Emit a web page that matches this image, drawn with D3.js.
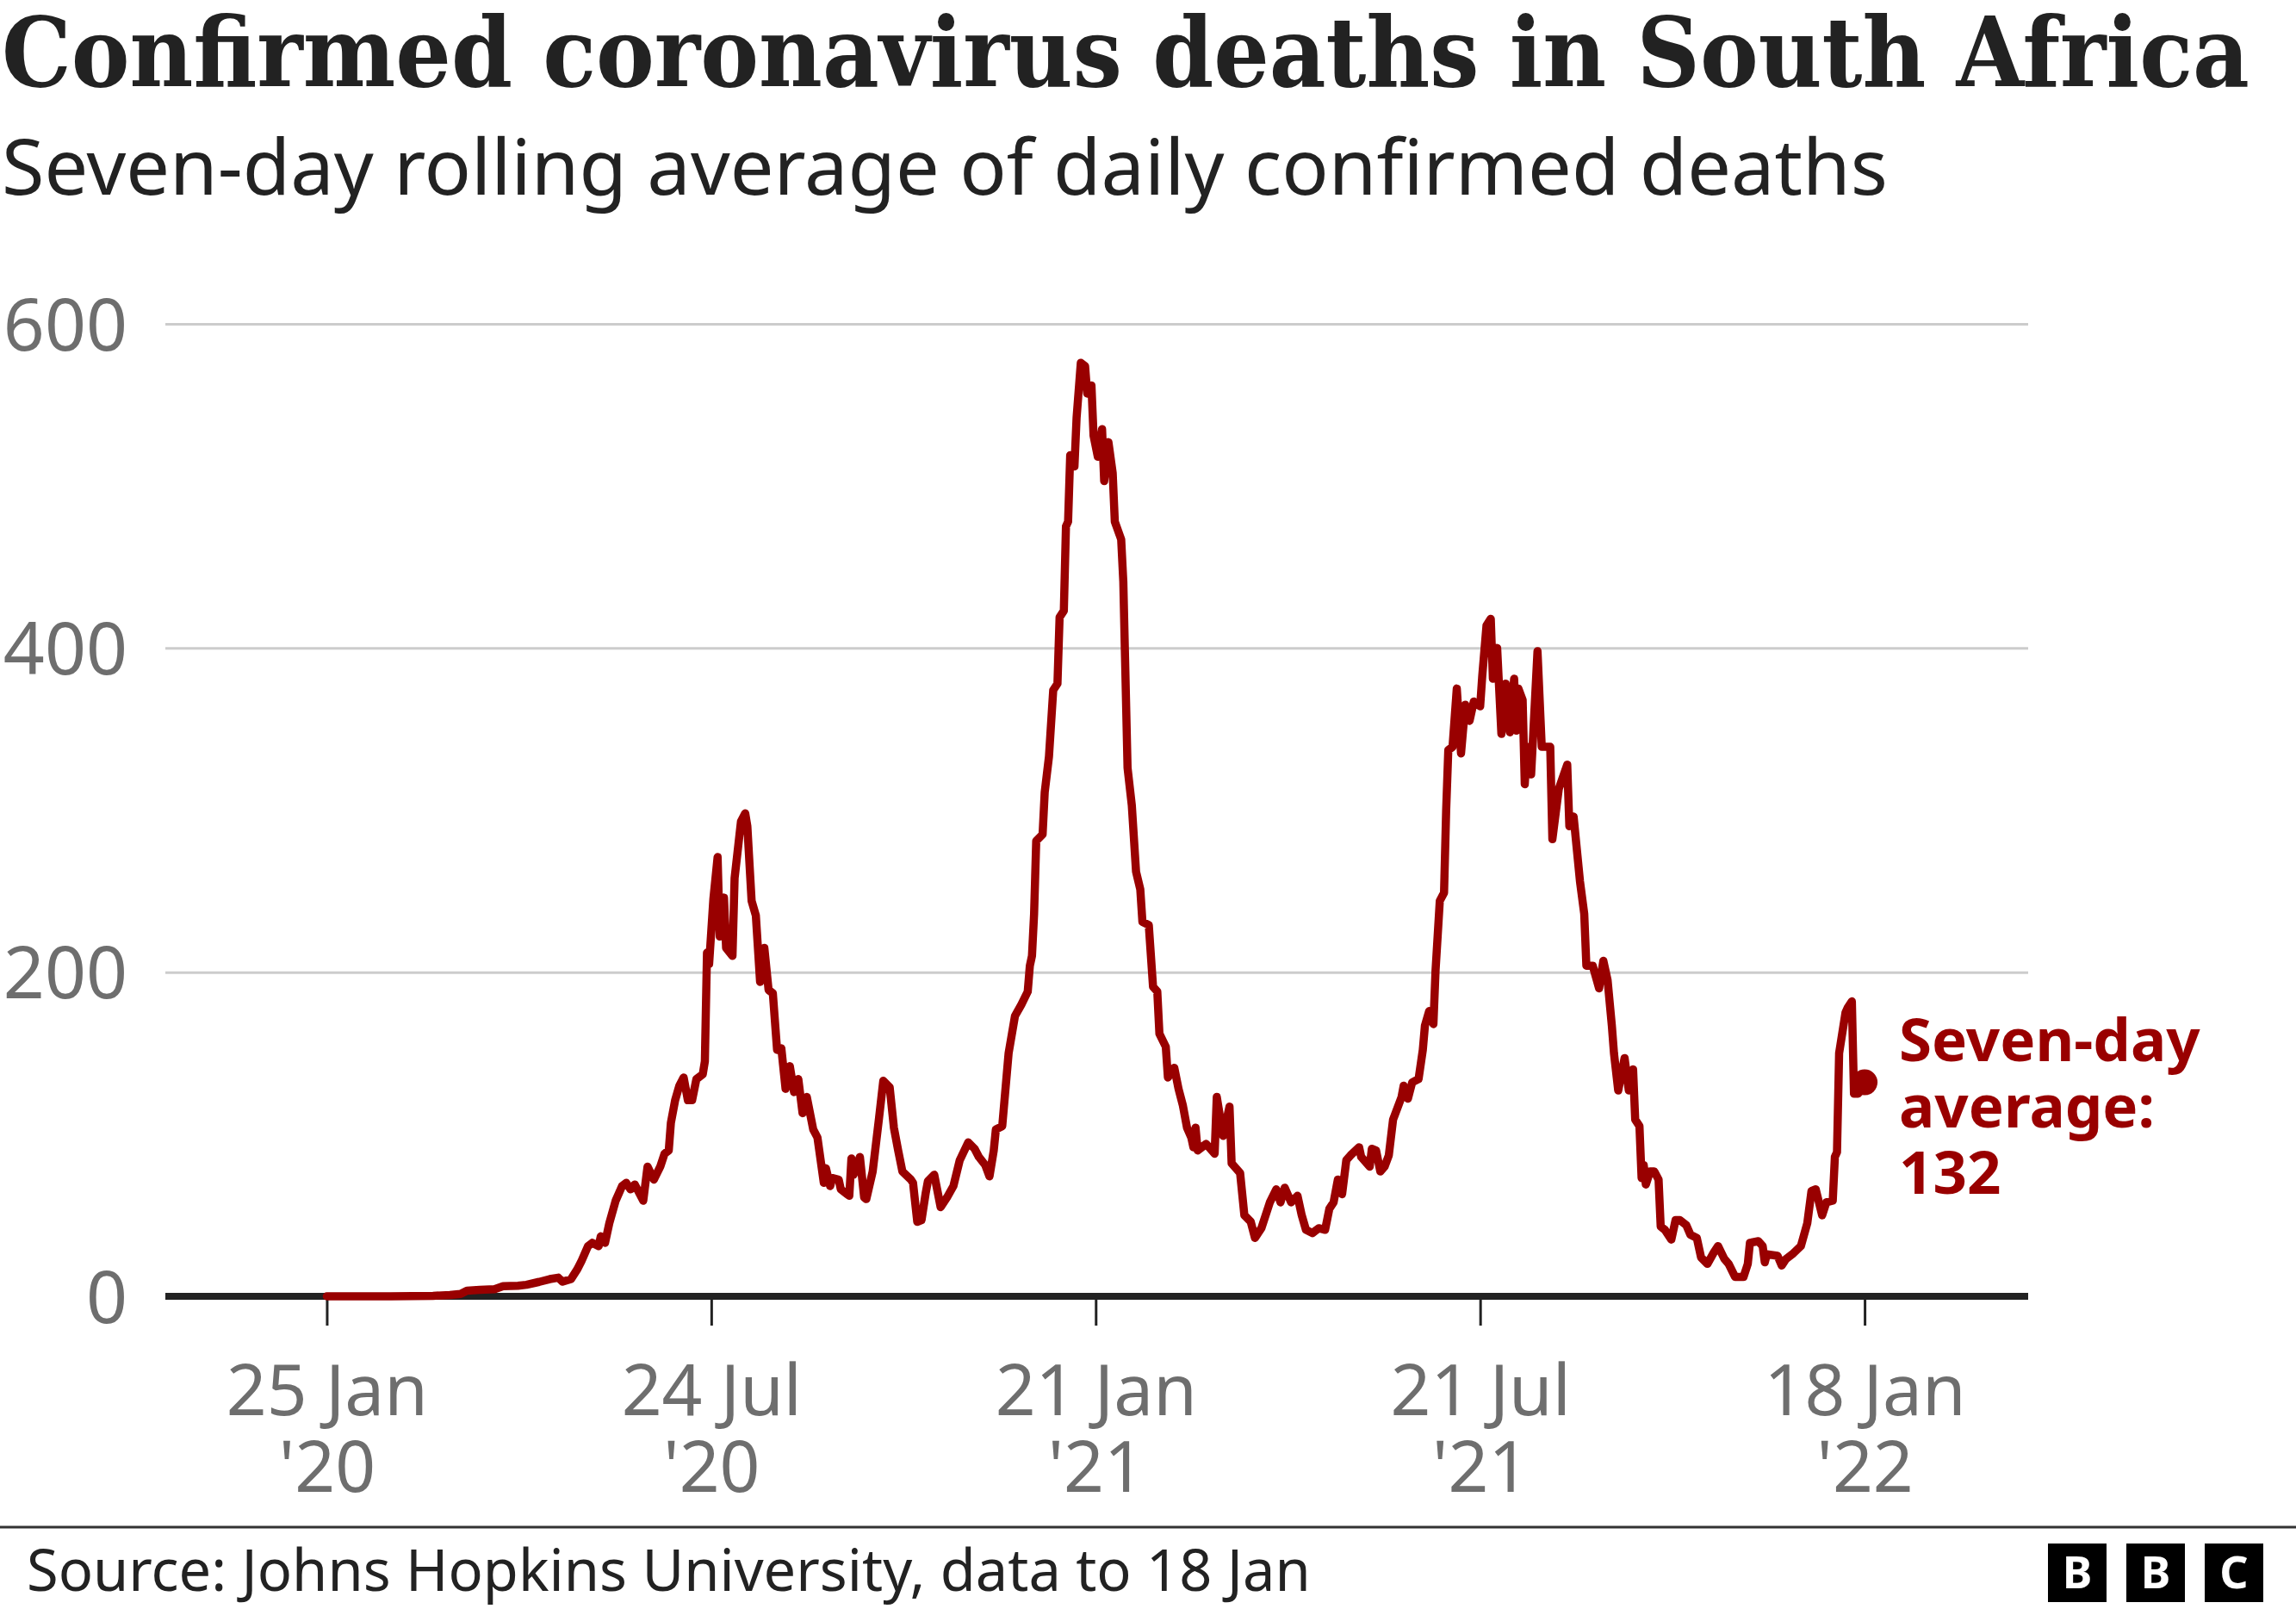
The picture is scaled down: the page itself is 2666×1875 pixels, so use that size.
<!DOCTYPE html>
<html><head><meta charset="utf-8">
<script src="https://cdn.jsdelivr.net/npm/d3@7"></script>
<style>html,body{margin:0;padding:0;background:#fff;} svg{display:block;}</style>
</head><body>
<svg id="chart" width="2666" height="1875"></svg>
<script>
// ---------- DATA ----------
const titleText = "Confirmed coronavirus deaths in South Africa";
const subtitleText = "Seven-day rolling average of daily confirmed deaths";
const sourceText = "Source: Johns Hopkins University, data to 18 Jan";
const annotationLines = ["Seven-day", "average:", "132"];

const startDate = "2020-01-25";          // day 0 of the series
const dayIndex = [0,30,50,58,63,66,72,79,83,90,94,100,105,109,111,115,118,120,123,125,128,129,131,133,136,139,141,143,145,147,149,151,154,157,159,161,162,164,166,168,170,172,174,177,178,179,180,182,184,185,187,188,191,192,195,197,198,200,202,204,206,208,210,212,214,216,218,220,222,224,226,229,231,234,235,237,238,241,242,245,246,247,248,251,253,254,257,260,262,265,267,269,271,275,276,278,280,282,283,286,289,292,295,298,302,305,307,310,312,314,315,318,319,320,321,324,327,330,331,332,333,334,337,338,340,342,344,345,347,348,349,350,352,353,355,357,358,360,361,363,365,366,368,370,371,374,375,377,379,381,383,384,387,389,391,392,395,396,399,401,403,405,407,408,409,410,414,418,419,422,425,426,430,432,435,437,440,444,447,449,451,454,457,459,461,464,467,470,472,474,476,478,480,482,486,487,491,492,494,496,498,500,502,506,507,509,511,514,516,517,519,521,522,524,526,527,528,530,532,534,536,538,540,543,544,546,548,549,551,553,555,557,559,560,561,563,564,565,567,570,572,576,577,580,584,585,587,590,592,593,596,599,601,603,605,606,608,611,613,615,616,618,619,620,621,623,625,627,628,630,632,633,635,637,640,642,645,647,650,653,655,658,660,663,667,669,670,674,676,677,678,683,685,687,690,694,697,699,701,704,706,709,710,711,712,715,716,718,719,721,724];
const deaths = [0,0,0.3,0.8,1.5,3.5,4,4.4,6.2,6.5,7.1,8.9,10.6,11.5,9,10.6,16.8,22,31,33,31,37,33,45,59,68,70,66,69,64,59,80,72,80,88,90,107,121,130,135,121,121,134,137,145,212,205,245,271,222,246,215,210,258,293,298,290,244,235,194,215,189,187,152,153,128,142,126,134,113,123,103,98,70,79,68,73,72,66,63,62,85,75,86,61,60,77,110,133,129,104,90,77,72,70,46,47,64,71,75,55,61,68,84,95,91,86,81,74,90,103,105,120,135,150,173,180,188,204,210,236,281,285,311,333,374,378,419,423,475,478,519,512,542,576,574,557,562,531,518,535,503,527,508,478,467,441,326,303,262,251,231,229,191,188,162,154,135,141,128,118,104,98,92,104,90,94,88,123,99,117,82,76,50,46,36,42,58,66,58,67,58,62,50,41,39,42,41,54,58,72,63,84,87,92,86,80,91,90,77,80,87,109,123,130,122,132,134,152,167,176,168,201,244,249,300,337,339,375,335,365,355,367,364,383,414,418,381,400,347,378,348,381,349,375,368,316,339,322,398,339,339,282,313,328,290,296,256,236,204,204,190,207,195,167,150,127,147,127,140,109,105,73,81,69,77,77,72,43,41,37,35,47,47,44,38,36,24,20,27,31,23,20,12,12,20,33,34,31,21,26,25,19,23,26,31,45,65,66,50,58,59,86,89,150,175,178,182,125,125,132];

const yTicks = [0, 200, 400, 600];
const xDomain = ["2019-11-10", "2022-04-05"];
const xTickDates = ["2020-01-25", "2020-07-24", "2021-01-21", "2021-07-21", "2022-01-18"];
const xTickLine1 = ["25 Jan", "24 Jul", "21 Jan", "21 Jul", "18 Jan"];
const xTickLine2 = ["'20", "'20", "'21", "'21", "'22"];

// ---------- STYLE ----------
const RED = "#990000";
const GREY_TEXT = "#6e6e6e";
const SANS = "'Noto Sans', 'Open Sans', Arial, sans-serif";
const SERIF = "'DejaVu Serif', 'Liberation Serif', serif";

const svg = d3.select("#chart");
const parse = d3.utcParse("%Y-%m-%d");
const t0 = parse(startDate);
const series = dayIndex.map((d, i) => ({ date: d3.utcDay.offset(t0, d), value: deaths[i] }));

const plot = { left: 192, right: 2355, top: 376, bottom: 1505 };
const x = d3.scaleUtc().domain(xDomain.map(parse)).range([plot.left, plot.right]);
const y = d3.scaleLinear().domain([0, 600]).range([plot.bottom, plot.top]);

function fitText(sel, targetWidth) {
  const node = sel.node();
  const w = node.getComputedTextLength();
  const fs = parseFloat(sel.attr("font-size"));
  if (w > 0) sel.attr("font-size", fs * targetWidth / w);
}

// Title & subtitle
const title = svg.append("text")
  .attr("x", 2).attr("y", 100)
  .attr("font-family", SERIF).attr("font-weight", "bold")
  .attr("font-stretch", "condensed")
  .attr("font-size", 110).attr("fill", "#222")
  .text(titleText);
fitText(title, 2610);

const subtitle = svg.append("text")
  .attr("x", 2).attr("y", 226)
  .attr("font-family", SANS).attr("font-size", 88).attr("fill", "#222")
  .text(subtitleText);
fitText(subtitle, 2190);

// Y axis with gridlines
const yAxis = d3.axisLeft(y)
  .tickValues(yTicks)
  .tickSize(-(plot.right - plot.left))
  .tickPadding(plot.left - 148)
  .tickFormat(d3.format("d"));
const gy = svg.append("g").attr("transform", `translate(${plot.left},0)`).call(yAxis);
gy.select(".domain").remove();
gy.selectAll(".tick line")
  .attr("stroke", d => d === 0 ? "none" : "#cccccc")
  .attr("stroke-width", 3);
gy.selectAll(".tick text")
  .attr("font-family", SANS).attr("font-size", 84).attr("fill", GREY_TEXT)
  .attr("dy", "0.36em");

// X axis
const xAxis = d3.axisBottom(x)
  .tickValues(xTickDates.map(parse))
  .tickSizeInner(34).tickSizeOuter(0)
  .tickFormat("");
const gx = svg.append("g").attr("transform", `translate(0,${plot.bottom})`).call(xAxis);
gx.select(".domain").remove();
gx.selectAll(".tick line").attr("stroke", "#222").attr("stroke-width", 3);
gx.selectAll(".tick").each(function(d, i) {
  const g = d3.select(this);
  g.append("text")
    .attr("text-anchor", "middle").attr("x", 0).attr("y", 138)
    .attr("font-family", SANS).attr("font-size", 82).attr("fill", GREY_TEXT)
    .text(xTickLine1[i]);
  g.append("text")
    .attr("text-anchor", "middle").attr("x", 0).attr("y", 227)
    .attr("font-family", SANS).attr("font-size", 82).attr("fill", GREY_TEXT)
    .text(xTickLine2[i]);
});

// Zero baseline
svg.append("line")
  .attr("x1", plot.left).attr("x2", plot.right)
  .attr("y1", y(0)).attr("y2", y(0))
  .attr("stroke", "#222").attr("stroke-width", 8);

// Data line
const line = d3.line().x(d => x(d.date)).y(d => y(d.value));
svg.append("path")
  .datum(series)
  .attr("d", line)
  .attr("fill", "none")
  .attr("stroke", RED)
  .attr("stroke-width", 9.5)
  .attr("stroke-linejoin", "round")
  .attr("stroke-linecap", "round");

// End dot + annotation
const last = series[series.length - 1];
svg.append("circle")
  .attr("cx", x(last.date)).attr("cy", y(last.value)).attr("r", 15)
  .attr("fill", RED);
const ann = svg.append("text")
  .attr("font-family", SANS).attr("font-weight", "bold")
  .attr("font-size", 69).attr("fill", RED);
annotationLines.forEach((s, i) => {
  ann.append("tspan").attr("x", 2205).attr("y", 1232 + i * 77).text(s);
});

// Footer
svg.append("line")
  .attr("x1", 0).attr("x2", 2666).attr("y1", 1773).attr("y2", 1773)
  .attr("stroke", "#333").attr("stroke-width", 3);
const src = svg.append("text")
  .attr("x", 31).attr("y", 1847)
  .attr("font-family", SANS).attr("font-size", 64).attr("fill", "#222")
  .text(sourceText);
fitText(src, 1491);

const logoLetters = ["B", "B", "C"];
const logo = svg.append("g").attr("transform", "translate(2378,1792)");
logoLetters.forEach((ch, i) => {
  logo.append("rect").attr("x", i * 91).attr("y", 0).attr("width", 68).attr("height", 68).attr("fill", "#000");
  logo.append("text").attr("x", i * 91 + 34).attr("y", 52)
    .attr("text-anchor", "middle")
    .attr("font-family", SANS).attr("font-weight", "bold").attr("font-size", 52)
    .attr("fill", "#fff").text(ch);
});
</script>
</body></html>
